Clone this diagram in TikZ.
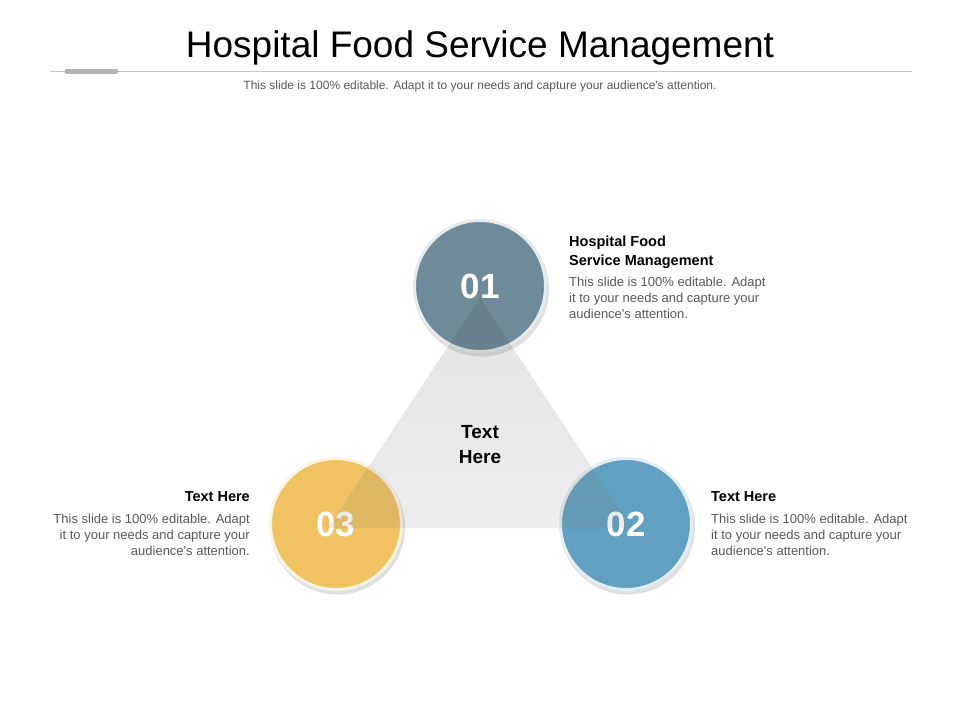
\documentclass[tikz,border=0pt]{standalone}
\usepackage{fontspec}
\setmainfont{Liberation Sans}
\usepackage{xcolor}
\usepackage{tikz}
\usetikzlibrary{shadows, positioning}
\definecolor{slate}{RGB}{111,138,153}
\definecolor{steel}{RGB}{97,160,192}
\definecolor{mustard}{RGB}{240,194,98}
\definecolor{shade}{RGB}{60,30,45}
\definecolor{bodygray}{RGB}{89,89,89}
\definecolor{rulegray}{RGB}{200,200,200}
\tikzstyle{numcircle} = [circle, minimum size=131pt, inner sep=0pt, line width=3pt, text=white, font=\fontsize{35}{40}\selectfont\bfseries, drop shadow={shadow scale=1.03, shadow xshift=1.5pt, shadow yshift=-3pt, opacity=0.12, fill=black}]
\tikzstyle{heading} = [inner sep=0pt, font=\fontsize{14.5}{19}\selectfont\bfseries, text=black]
\tikzstyle{bodytext} = [inner sep=0pt, font=\fontsize{13}{16}\selectfont, text=bodygray]
\begin{document}
\begin{tikzpicture}[x=1pt, y=-1pt]

   \useasboundingbox (0,0) rectangle (960,720);
   \fill[white] (0,0) rectangle (960,720);

   \node (title) [anchor=base, font=\fontsize{37}{40}\selectfont] at (480,57) {Hospital Food Service Management};
   \draw[rulegray, line width=1pt] (50,71) -- (912,71);
   \draw[rulegray!90!black, line width=5pt, line cap=round] (67,71) -- (116,71);
   \node (subtitle) [anchor=base, font=\fontsize{12}{14}\selectfont, text=bodygray] at (480,89) {This slide is 100\% editable. Adapt it to your needs and capture your audience\textquotesingle s attention.};

   \node (first) [numcircle, fill=slate, draw=slate!18!white] at (480,286) {01};
   \node (second) [numcircle, fill=steel, draw=steel!18!white] at (626,524) {02};
   \node (third) [numcircle, fill=mustard, draw=mustard!18!white] at (336,524) {03};

   \fill[shade, fill opacity=0.075] (480,298) -- (328,528) -- (632,528) -- cycle;
   \node (middle) [align=center, font=\fontsize{19}{25}\selectfont\bfseries] at (480,445) {Text\\Here};

   \node (firsthead) [heading, anchor=base west, align=left] at (569,265) {Hospital Food\\Service Management};
   \node (firsttext) [bodytext, below=9pt of firsthead.south west, anchor=north west, align=left] {This slide is 100\% editable. Adapt\\it to your needs and capture your\\audience\textquotesingle s attention.};

   \node (secondhead) [heading, anchor=base west] at (711,501) {Text Here};
   \node (secondtext) [bodytext, below=13pt of secondhead.south west, anchor=north west, align=left] {This slide is 100\% editable. Adapt\\it to your needs and capture your\\audience\textquotesingle s attention.};

   \node (thirdhead) [heading, anchor=base east] at (250,501) {Text Here};
   \node (thirdtext) [bodytext, below=13pt of thirdhead.south east, anchor=north east, align=right] {This slide is 100\% editable. Adapt\\it to your needs and capture your\\audience\textquotesingle s attention.};
   \end{tikzpicture}
\end{document}
